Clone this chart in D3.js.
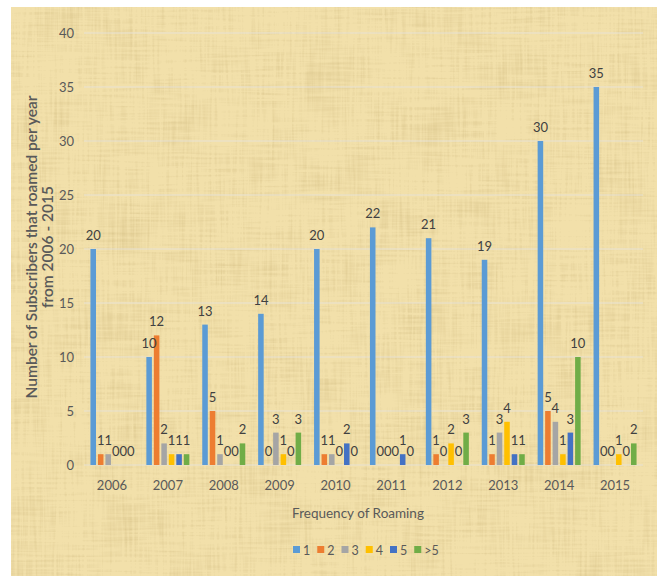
<!DOCTYPE html>
<html>
<head>
<meta charset="utf-8">
<script src="https://cdn.jsdelivr.net/npm/d3@7"></script>
<style>
  html, body { margin: 0; padding: 0; background: #ffffff; }
  svg { display: block; }
  text { font-family: Lato, "Open Sans", sans-serif; }
</style>
</head>
<body>
<div id="chart"></div>
<script>
// Roaming subscribers per year, grouped by roaming frequency
const years = ["2006", "2007", "2008", "2009", "2010", "2011", "2012", "2013", "2014", "2015"];
const seriesNames = ["1", "2", "3", "4", "5", ">5"];
const freq1  = [20, 10, 13, 14, 20, 22, 21, 19, 30, 35];
const freq2  = [1, 12, 5, 0, 1, 0, 1, 1, 5, 0];
const freq3  = [1, 2, 1, 3, 1, 0, 0, 3, 4, 0];
const freq4  = [0, 1, 0, 1, 0, 0, 2, 4, 1, 1];
const freq5  = [0, 1, 0, 0, 2, 1, 0, 1, 3, 0];
const freqGt5 = [0, 1, 2, 3, 0, 0, 3, 1, 10, 2];
const yTicks = [0, 5, 10, 15, 20, 25, 30, 35, 40];
const colors = ["#5B9BD5", "#ED7D31", "#A5A5A5", "#FFC000", "#4472C4", "#70AD47"];

const seriesValues = [freq1, freq2, freq3, freq4, freq5, freqGt5];
const rows = years.map((yr, i) => ({
  year: yr,
  values: seriesNames.map((s, j) => ({ key: s, value: seriesValues[j][i] }))
}));

const W = 661, H = 576;
const plot = { left: 84, right: 643, top: 33, bottom: 465 };

const svg = d3.select("#chart").append("svg")
  .attr("width", W).attr("height", H);

// Papyrus-like background texture: crossed fibres plus faint blotches
const defs = svg.append("defs");
const f = defs.append("filter").attr("id", "papyrus")
  .attr("x", 0).attr("y", 0).attr("width", "100%").attr("height", "100%");
f.append("feTurbulence").attr("type", "fractalNoise")
  .attr("baseFrequency", "0.4 0.02").attr("numOctaves", 2).attr("seed", 3).attr("result", "h");
f.append("feTurbulence").attr("type", "fractalNoise")
  .attr("baseFrequency", "0.02 0.4").attr("numOctaves", 2).attr("seed", 7).attr("result", "v");
f.append("feTurbulence").attr("type", "fractalNoise")
  .attr("baseFrequency", "0.02").attr("numOctaves", 2).attr("seed", 11).attr("result", "blot");
f.append("feComposite").attr("in", "h").attr("in2", "v")
  .attr("operator", "arithmetic").attr("k1", 0).attr("k2", 0.5).attr("k3", 0.5).attr("k4", 0).attr("result", "hv");
f.append("feComposite").attr("in", "hv").attr("in2", "blot")
  .attr("operator", "arithmetic").attr("k1", 0).attr("k2", 0.75).attr("k3", 0.25).attr("k4", 0).attr("result", "mix");
f.append("feColorMatrix").attr("in", "mix").attr("type", "matrix")
  .attr("values", "0 0 0 0 0.70  0 0 0 0 0.56  0 0 0 0 0.26  -2.4 0 0 0 1.28")
  .attr("result", "tint");
f.append("feComposite").attr("in", "tint").attr("in2", "SourceGraphic").attr("operator", "in").attr("result", "tintClip");
f.append("feMerge").call(m => {
  m.append("feMergeNode").attr("in", "SourceGraphic");
  m.append("feMergeNode").attr("in", "tintClip");
});

svg.append("rect")
  .attr("x", 11).attr("y", 7).attr("width", 646).attr("height", H - 7)
  .attr("fill", "#f2e0aa").attr("filter", "url(#papyrus)");

const x0 = d3.scaleBand().domain(years).range([plot.left, plot.right]).paddingInner(0).paddingOuter(0);
const groupW = 43;
const x1 = d3.scaleBand().domain(seriesNames).range([0, groupW]).paddingInner(0.26).paddingOuter(0);
const y = d3.scaleLinear().domain([0, 40]).range([plot.bottom, plot.top]);

// Gridlines
svg.append("g").selectAll("line").data(yTicks).join("line")
  .attr("x1", plot.left).attr("x2", plot.right)
  .attr("y1", d => y(d)).attr("y2", d => y(d))
  .attr("stroke", "#e6e2d8").attr("stroke-width", 1.2).attr("opacity", 0.9);

// Y axis labels
const yAxis = d3.axisLeft(y).tickValues(yTicks).tickSize(0).tickPadding(10);
const yg = svg.append("g").attr("transform", `translate(${plot.left},0)`).call(yAxis);
yg.select(".domain").remove();
yg.selectAll("text").attr("font-size", 13).attr("fill", "#595959")
  .attr("font-family", "Lato, sans-serif");

// X axis labels
const xAxis = d3.axisBottom(x0).tickSize(0).tickPadding(16);
const xg = svg.append("g").attr("transform", `translate(0,${plot.bottom})`).call(xAxis);
xg.select(".domain").remove();
xg.selectAll("text").attr("font-size", 13).attr("fill", "#595959")
  .attr("font-family", "Lato, sans-serif");

// Bars
const groups = svg.append("g").selectAll("g").data(rows).join("g")
  .attr("transform", d => `translate(${x0(d.year) + (x0.bandwidth() - groupW) / 2},0)`);

groups.selectAll("rect").data(d => d.values).join("rect")
  .attr("x", d => x1(d.key))
  .attr("width", x1.bandwidth())
  .attr("y", d => y(d.value))
  .attr("height", d => y(0) - y(d.value))
  .attr("fill", (d, i) => colors[i]);

// Value labels
groups.selectAll("text").data(d => d.values).join("text")
  .attr("x", d => x1(d.key) + x1.bandwidth() / 2)
  .attr("y", d => y(d.value) - 9)
  .attr("text-anchor", "middle")
  .attr("font-size", 13)
  .attr("fill", "#404040")
  .text(d => d.value);

// Axis titles
const yTitle = svg.append("text")
  .attr("transform", "translate(37,247) rotate(-90)")
  .attr("text-anchor", "middle")
  .attr("font-size", 15.5).attr("font-weight", 600)
  .attr("fill", "#595959");
yTitle.append("tspan").attr("x", 0).attr("dy", 0).text("Number of Subscribers that roamed per year");
yTitle.append("tspan").attr("x", 0).attr("dy", 16).text("from 2006 - 2015");

svg.append("text")
  .attr("x", 358).attr("y", 518)
  .attr("text-anchor", "middle")
  .attr("font-size", 13.5)
  .attr("fill", "#595959")
  .text("Frequency of Roaming");

// Legend
const legendItems = seriesNames.map((s, i) => ({ name: s, color: colors[i] }));
const legend = svg.append("g").attr("transform", "translate(0,551)");
let lx = 293;
legendItems.forEach(item => {
  legend.append("rect").attr("x", lx).attr("y", -5).attr("width", 7).attr("height", 7).attr("fill", item.color);
  const t = legend.append("text").attr("x", lx + 10).attr("y", 4)
    .attr("font-size", 12.5).attr("fill", "#595959").text(item.name);
  lx += 10 + t.node().getComputedTextLength() + 7;
});
</script>
</body>
</html>
